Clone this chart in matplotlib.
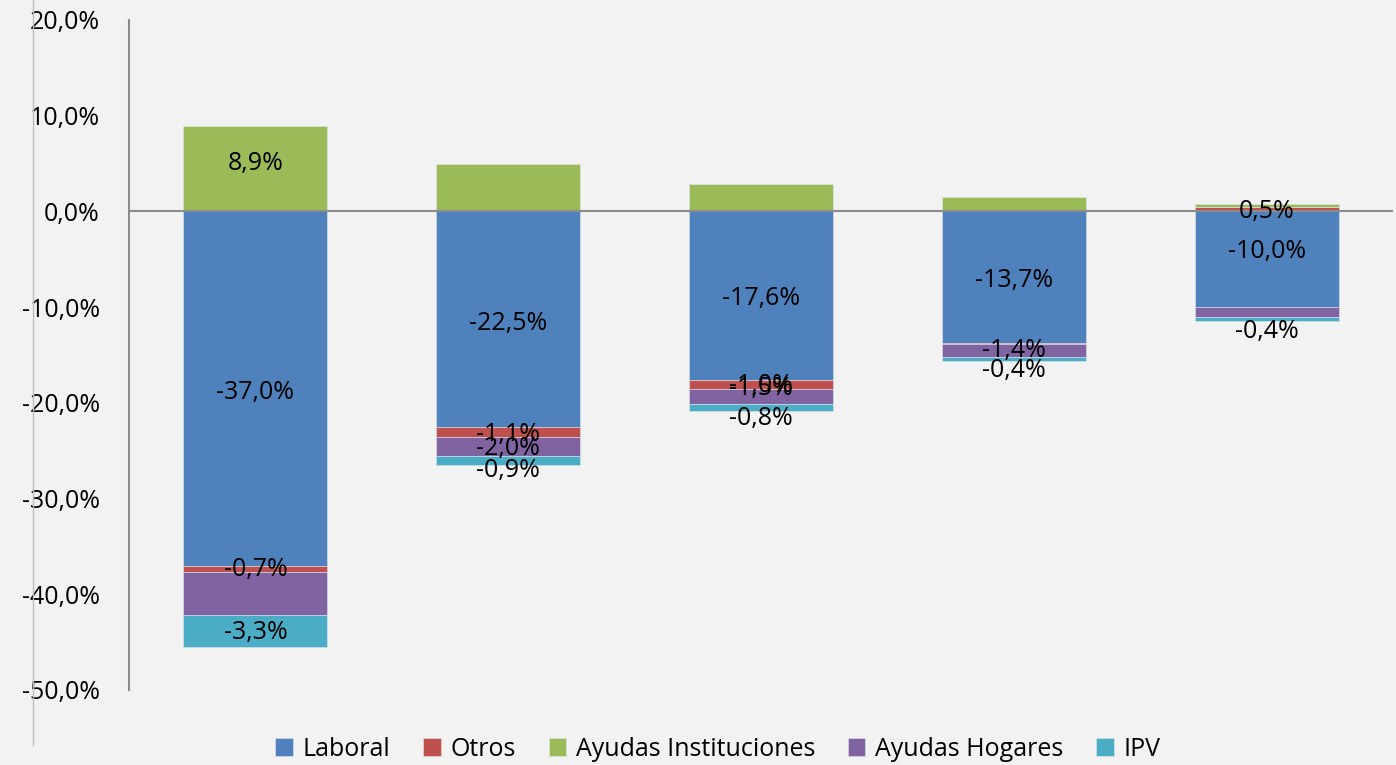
import matplotlib.pyplot as plt
import numpy as np
from matplotlib.lines import Line2D

plt.rcParams['font.family'] = ['Open Sans', 'DejaVu Sans']

# values (percent)
series = ['Laboral', 'Otros', 'Ayudas Instituciones', 'Ayudas Hogares', 'IPV']
laboral = [-37.0, -22.5, -17.6, -13.7, -10.0]
otros = [-0.7, -1.1, -1.0, -0.15, 0.5]
ayudas_inst = [8.9, 5.0, 2.9, 1.5, 0.25]
ayudas_hog = [-4.5, -2.0, -1.5, -1.4, -1.0]
ipv = [-3.3, -0.9, -0.8, -0.4, -0.4]
yticks = [20, 10, 0, -10, -20, -30, -40, -50]

colors = ['#4F81BD', '#C0504D', '#9BBB59', '#8064A2', '#4BACC6']
# which segments carry a data label (as in the original)
show_lab = [[1, 1, 1, 1, 1],
            [1, 1, 1, 0, 1],
            [1, 0, 0, 0, 0],
            [0, 1, 1, 1, 0],
            [1, 1, 1, 1, 1]]
# label nudges in pixels (down = positive)
lab_dy = [[4, 4, 3, 4, -8],
          [1, 2, 1, 0, 2],
          [-5, 0, 0, 0, 0],
          [0, 2, -8, 0, 0],
          [1, 10, 11, 11, 13]]

data = [laboral, otros, ayudas_inst, ayudas_hog, ipv]
x = np.arange(len(laboral))
bg = '#F2F2F2'
fs = 18

fig = plt.figure(figsize=(13.96, 7.65), dpi=100, facecolor=bg)
ax = fig.add_axes([129/1396, 1-690/765, (1393-129)/1396, (690-20)/765])
ax.set_facecolor(bg)

pos_base = np.zeros(len(x))
neg_base = np.zeros(len(x))
for i, vals in enumerate(data):
    vals = np.array(vals)
    bottoms = np.where(vals >= 0, pos_base, neg_base)
    ax.bar(x, vals, 0.57, bottom=bottoms, color=colors[i], label=series[i],
           edgecolor='#dfe6ee', linewidth=0.4, zorder=2)
    for j in range(len(x)):
        if show_lab[i][j]:
            yc = bottoms[j] + vals[j]/2
            txt = ('%.1f%%' % vals[j]).replace('.', ',')
            ax.annotate(txt, (x[j], yc), xytext=(0, -lab_dy[i][j]*0.72),
                        textcoords='offset points', ha='center', va='center',
                        fontsize=fs, color='black', zorder=5)
    pos_base = np.where(vals >= 0, pos_base + vals, pos_base)
    neg_base = np.where(vals < 0, neg_base + vals, neg_base)

ax.axhline(0, color='#8c8c8c', lw=1.5, zorder=3)
ax.set_xlim(-0.5, 4.5)
ax.set_ylim(-50, 20)
ax.set_yticks(yticks)
ax.set_yticklabels([('%.1f%%' % v).replace('.', ',') for v in yticks], fontsize=fs)
ax.tick_params(axis='y', length=0, pad=21)
ax.set_xticks([])
for s in ['top', 'right', 'bottom']:
    ax.spines[s].set_visible(False)
ax.spines['left'].set_color('#8c8c8c')
ax.spines['left'].set_linewidth(1.5)

# stray frame line at the left of the crop
fig.add_artist(Line2D([33/1396, 33/1396], [1, 1-745/765], transform=fig.transFigure,
                      color='#bdbdbd', lw=1))

fig.legend(loc='center', bbox_to_anchor=(718/1396, 1-749/765), ncol=5, frameon=False,
           fontsize=fs, handlelength=0.7, handleheight=0.7, handletextpad=0.4,
           columnspacing=1.3, borderaxespad=0)

fig.savefig('out.png', dpi=100, facecolor=bg)
plt.close()
